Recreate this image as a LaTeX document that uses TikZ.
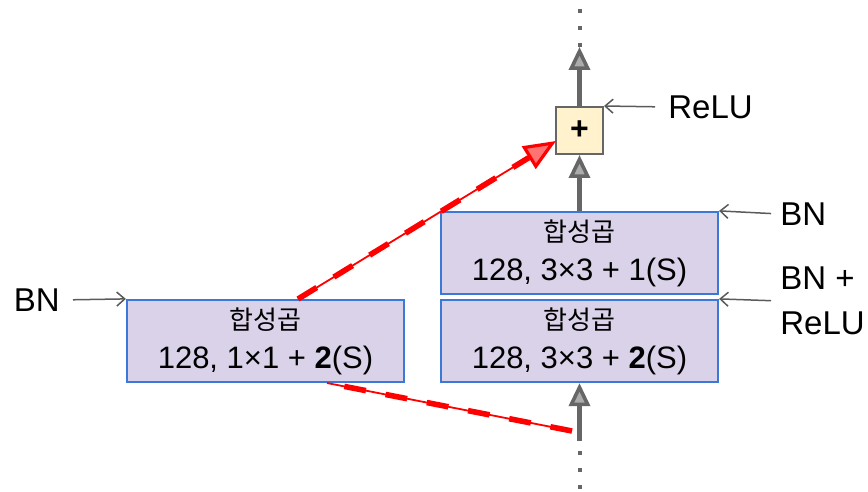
\documentclass[tikz,border=0pt]{standalone}
\usepackage{fontspec}
\setmainfont{Liberation Sans}
\newfontfamily\kr{Noto Sans CJK KR}
\usetikzlibrary{arrows.meta, calc}

\begin{document}
\begin{tikzpicture}[x=0.5pt, y=-0.5pt,
    conv/.style={draw=convblue, line width=1.1pt, fill=convfill, minimum width=138.5pt, minimum height=41pt, inner sep=0pt, align=center, font=\fontsize{15.5}{19.5}\selectfont},
    addbox/.style={draw=boxgray, line width=1pt, fill=addfill, minimum size=23.5pt, inner sep=0pt, font=\fontsize{16}{16}\selectfont\bfseries},
    sidelabel/.style={inner sep=0pt, align=left, font=\fontsize{16.5}{22.5}\selectfont},
    sidearrow/.style={draw=arrowgray, line width=0.75pt, -{Straight Barb[length=4pt, width=7pt]}},
    mainarrow/.style={draw=boxgray, line width=2.5pt, -{Triangle[open, length=11.5pt, width=10.5pt, line width=1.8pt, fill=boxgray!55]}},
    dots/.style={draw=boxgray, line width=2pt, dash pattern=on 2pt off 6.5pt},
    shortcut/.style={draw=red, line width=0.9pt},
    shortcutdash/.style={draw=red, line width=2.8pt, dash pattern=on 11pt off 10pt}]

%my colors
\definecolor{convfill}{HTML}{D9D2E9}
\definecolor{convblue}{HTML}{3C78D8}
\definecolor{addfill}{HTML}{FFF2CC}
\definecolor{boxgray}{HTML}{666666}
\definecolor{arrowgray}{HTML}{5A5A5A}

    \useasboundingbox (0,0) rectangle (868,492);

    % Convolution layers
    \node[conv] (conv1) at (265.5,341) {{\kr\fontsize{13}{19.5}\selectfont 합성곱}\\128, 1×1 + \textbf{2}(S)};
    \node[conv] (conv2) at (579.5,253) {{\kr\fontsize{13}{19.5}\selectfont 합성곱}\\128, 3×3 + 1(S)};
    \node[conv] (conv3) at (579.5,341) {{\kr\fontsize{13}{19.5}\selectfont 합성곱}\\128, 3×3 + \textbf{2}(S)};

    % Addition
    \node[addbox] (add) at (579.5,130.5) {+};

    % Input and output of the unit
    \coordinate (in) at (579.5,441);
    \coordinate (out) at (579.5,47);

    % Main path
    \draw[mainarrow] (in) -- (conv3.south);
    \draw[mainarrow] (conv2.north) -- (add.south);
    \draw[mainarrow] (add.north) -- (out);
    \draw[dots] (out) -- ++(0,-41);
    \draw[dots] ($(in)+(0,10)$) -- ++(0,40);

    % Side labels
    \node[sidelabel, anchor=east] (bnleft) at (60,300) {BN};
    \node[sidelabel, anchor=west] (relu) at (668,107) {ReLU};
    \node[sidelabel, anchor=west] (bnright) at (780,214) {BN};
    \node[sidelabel, anchor=west] (bnrelu) at (780,301) {BN +\\ReLU};

    \draw[sidearrow, shorten <=6.5pt] (bnleft.east) -- (conv1.north west);
    \draw[sidearrow, shorten <=6.5pt] (relu.west) -- (add.north east);
    \draw[sidearrow, shorten <=4.5pt] (bnright.west) -- (conv2.north east);
    \draw[sidearrow, shorten <=4.5pt] (bnrelu.west) -- (conv3.north east);

    % Skip connection
    \coordinate (skipin) at (572,431);
    \coordinate (skipa) at (327,383);
    \coordinate (skipb) at (298,299);
    \coordinate (skipout) at (556,141);

    \draw[shortcut] (skipin) -- (skipa);
    \draw[shortcutdash] (skipin) -- (skipa);
    \draw[shortcut, -{Triangle[open, length=16pt, width=13pt, line width=1.6pt, fill=red!55]}] (skipb) -- (skipout);
    \draw[shortcutdash, shorten >=16pt] (skipb) -- (skipout);

\end{tikzpicture}
\end{document}
